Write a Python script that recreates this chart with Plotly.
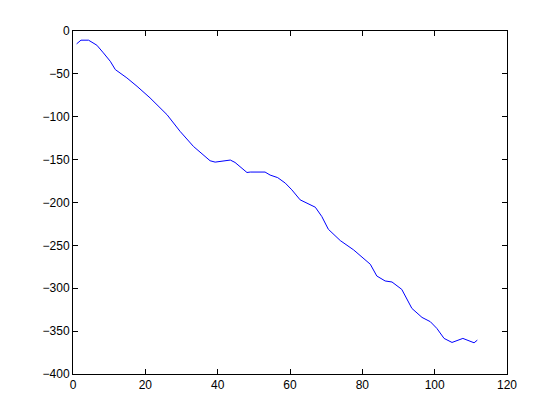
import plotly.graph_objects as go

x_vals = [1, 2.2, 4.3, 6.6, 8.4, 10.3, 11.7, 14.9, 17.7, 21.3, 26, 29.6, 33.3, 36.1, 37.9,
          39.3, 41.6, 43.5, 44.8, 48.1, 49, 53.1, 54.5, 56.6, 58.7, 60.5, 62.8, 65.1, 67,
          68.8, 70.6, 73.9, 75.7, 77.6, 82.2, 84, 86.3, 88.2, 90.9, 93.7, 96.5, 98.8,
          100.6, 102.6, 104.8, 107.8, 110.9, 111.8]
y_vals = [-15, -10.7, -10.7, -16.6, -25.5, -35.3, -45, -54.7, -64.5, -78, -97.6, -117,
          -134.6, -144.3, -151.3, -152.9, -151.7, -150.5, -153.3, -165, -164.5, -164.5,
          -168, -171, -177.4, -185.2, -196.9, -202, -205.5, -216.4, -231.2, -244.4,
          -249.5, -255.3, -272, -285.7, -291.5, -292.7, -301.3, -323.5, -334, -339,
          -346.8, -358.5, -363.2, -358.5, -363.6, -360.5]
x_ticks = [0, 20, 40, 60, 80, 100, 120]
y_ticks = [0, -50, -100, -150, -200, -250, -300, -350, -400]

fig = go.Figure(go.Scatter(x=x_vals, y=y_vals, mode="lines",
                           line=dict(color="#0000ff", width=1)))

axis_common = dict(showgrid=False, zeroline=False, showline=True, linecolor="black",
                   linewidth=1, mirror="ticks", ticks="inside", ticklen=5,
                   tickcolor="black", automargin=False,
                   tickfont=dict(family="Liberation Sans, Arial", size=12, color="black"))
fig.update_xaxes(range=[0, 120], tickvals=x_ticks, **axis_common)
fig.update_yaxes(range=[-400, 0], tickvals=y_ticks, **axis_common)
fig.update_layout(width=560, height=420, margin=dict(l=65, r=61, t=23, b=54),
                  paper_bgcolor="white", plot_bgcolor="white", showlegend=False)
fig.write_html("out.html")
